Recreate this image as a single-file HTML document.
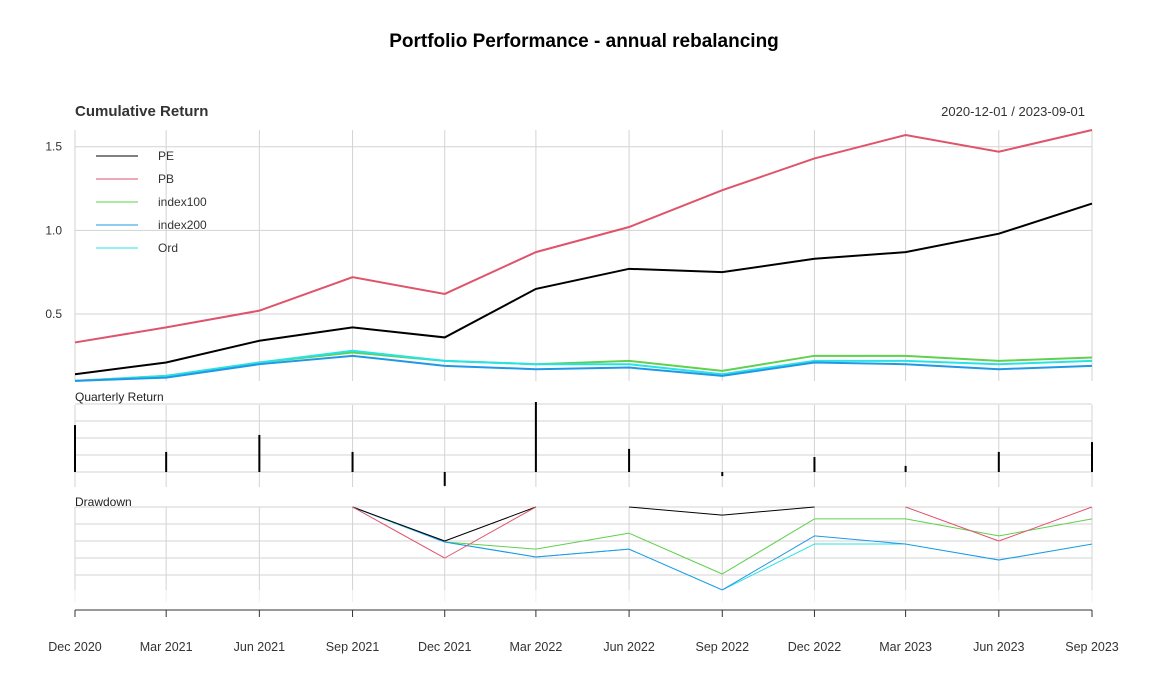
<!DOCTYPE html>
<html><head><meta charset="utf-8"><style>
body{margin:0;background:#fff;}
svg{display:block;font-family:"Liberation Sans",sans-serif;}
</style></head><body>
<svg id="chart" width="1169" height="697" viewBox="0 0 1169 697" xmlns="http://www.w3.org/2000/svg">
<text x="584" y="47" text-anchor="middle" font-size="19" font-weight="bold" fill="#000">Portfolio Performance - annual rebalancing</text>
<text x="75" y="116" font-size="15" font-weight="bold" fill="#333">Cumulative Return</text>
<text x="1085" y="116" text-anchor="end" font-size="13" fill="#333">2020-12-01 / 2023-09-01</text>
<text x="75" y="401" font-size="12" fill="#222">Quarterly Return</text>
<text x="75" y="506" font-size="12" fill="#222">Drawdown</text>
<g id="grid"></g><g id="marks"></g><g id="axis"></g><g id="legend"></g>
</svg>
<script>
const dates = ["2020-12-01","2021-03-01","2021-06-01","2021-09-01","2021-12-01","2022-03-01","2022-06-01","2022-09-01","2022-12-01","2023-03-01","2023-06-01","2023-09-01"];
const tickLabels = ["Dec 2020","Mar 2021","Jun 2021","Sep 2021","Dec 2021","Mar 2022","Jun 2022","Sep 2022","Dec 2022","Mar 2023","Jun 2023","Sep 2023"];
const seriesNames = ["PE","PB","index100","index200","Ord"];
const cumPE = [0.14,0.21,0.34,0.42,0.36,0.65,0.77,0.75,0.83,0.87,0.98,1.16];
const cumPB = [0.33,0.42,0.52,0.72,0.62,0.87,1.02,1.24,1.43,1.57,1.47,1.60];
const cumIdx100 = [0.10,0.13,0.21,0.27,0.22,0.20,0.22,0.16,0.25,0.25,0.22,0.24];
const cumIdx200 = [0.10,0.12,0.20,0.25,0.19,0.17,0.18,0.13,0.21,0.20,0.17,0.19];
const cumOrd = [0.10,0.13,0.21,0.28,0.22,0.20,0.20,0.14,0.22,0.22,0.20,0.22];
const yTicks = [0.5,1.0,1.5];
const qReturnPE = [0.138,0.059,0.109,0.059,-0.041,0.206,0.068,-0.012,0.044,0.018,0.059,0.088];
const ddPE = [0,0,0,0,-0.10,0,0,-0.024,0,0,0,0];
const ddPB = [0,0,0,0,-0.15,0,0,0,0,0,-0.10,0];
const ddIdx100 = [0,0,0,0,-0.103,-0.124,-0.077,-0.197,-0.035,-0.035,-0.085,-0.035];
const ddOrd = [0,0,0,0,-0.103,-0.147,-0.124,-0.244,-0.109,-0.109,-0.156,-0.109];
const ddIdx200 = [0,0,0,0,-0.103,-0.147,-0.124,-0.244,-0.085,-0.109,-0.156,-0.109];
const colors = ["#000000","#DF536B","#61D04F","#2297E6","#28E2E5"];

const NS="http://www.w3.org/2000/svg";
const t0=Date.parse(dates[0]), t1=Date.parse(dates[dates.length-1]);
function x(d){return 75+(Date.parse(d)-t0)/(t1-t0)*(1092-75);}
function yCum(v){return 314-(v-0.5)*167.3;}
function yQ(v){return 472-v*340;}
function yDD(v){return 507-v*340;}
function mk(tag,attrs,parent){const e=document.createElementNS(NS,tag);for(const k in attrs)e.setAttribute(k,attrs[k]);parent.appendChild(e);return e;}
const grid=document.getElementById('grid'),marks=document.getElementById('marks'),axis=document.getElementById('axis'),legend=document.getElementById('legend');
dates.forEach(d=>{
  [[130,381],[405,487],[507,590],[590,602]].forEach(([a,b],i)=>{
    const l=mk('line',{x1:x(d),x2:x(d),y1:a,y2:b,stroke:i==3?'#f0f0f0':'#d3d3d3','stroke-width':1},grid);
    
    
  });
});
yTicks.forEach(v=>{
  const l=mk('line',{x1:75,x2:1092,y1:yCum(v),y2:yCum(v),stroke:'#d3d3d3'},grid);
  
  
  const t=mk('text',{x:62,y:yCum(v)+4,'text-anchor':'end','font-size':12,fill:'#333'},axis);
  t.textContent=v.toFixed(1);
  
  
});
[0.2,0.15,0.1,0.05,0].forEach(v=>{
  const l=mk('line',{x1:75,x2:1092,y1:yQ(v),y2:yQ(v),stroke:'#d3d3d3'},grid);
  
  
});
[0,-0.05,-0.1,-0.15,-0.2].forEach(v=>{
  const l=mk('line',{x1:75,x2:1092,y1:yDD(v),y2:yDD(v),stroke:'#d3d3d3'},grid);
  
  
});
const cum=[cumPE,cumPB,cumIdx100,cumIdx200,cumOrd];
[0,1,2,4,3].forEach(i=>{
  const p=mk('polyline',{points:cum[i].map((v,j)=>x(dates[j])+','+yCum(v)).join(' '),fill:'none',stroke:colors[i],'stroke-width':2},marks);
  
  
});
qReturnPE.forEach((v,j)=>{
  const b=mk('line',{x1:x(dates[j]),x2:x(dates[j]),y1:yQ(0),y2:yQ(v),stroke:'#000','stroke-width':2},marks);
  
  
});
const dd=[ddIdx100,ddOrd,ddIdx200,ddPE,ddPB];
const ddCol=[colors[2],colors[4],colors[3],colors[0],colors[1]];
const ddName=['index100','ord','index200','pe','pb'];
dd.forEach((s,i)=>{
  for(let j=0;j<s.length-1;j++){
    if(s[j]===0&&s[j+1]===0)continue;
    const l=mk('line',{x1:x(dates[j]),y1:yDD(s[j]),x2:x(dates[j+1]),y2:yDD(s[j+1]),stroke:ddCol[i],'stroke-width':1},marks);
    
    
  }
});
const ax=mk('line',{x1:75,x2:1092,y1:610,y2:610,stroke:'#333','stroke-width':1},axis);


dates.forEach((d,j)=>{
  const tk=mk('line',{x1:x(d),x2:x(d),y1:610,y2:617,stroke:'#333'},axis);
  
  
  const t=mk('text',{x:x(d),y:651,'text-anchor':'middle','font-size':12.5,fill:'#333'},axis);
  t.textContent=tickLabels[j];
  
  
});
seriesNames.forEach((n,i)=>{
  const yy=156+i*23;
  const g=mk('g',{},legend);
  
  
  mk('line',{x1:96,x2:138,y1:yy,y2:yy,stroke:colors[i],'stroke-width':1},g);
  const t=mk('text',{x:158,y:yy+4,'font-size':12,fill:'#333'},g);
  t.textContent=n;
});
</script>
</body></html>
